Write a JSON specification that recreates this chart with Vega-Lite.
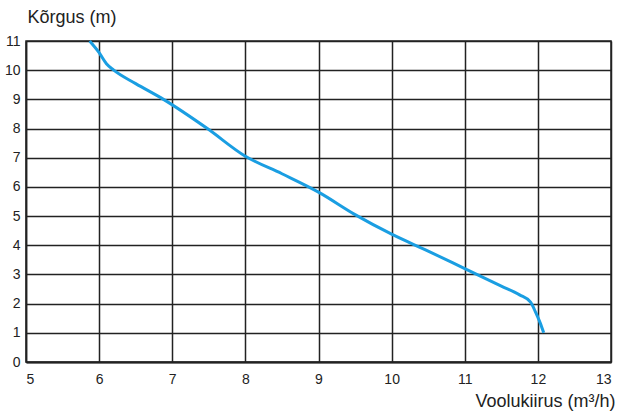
{
  "$schema": "https://vega.github.io/schema/vega-lite/v6.json",
  "width": 585,
  "height": 321,
  "autosize": {"type": "none"},
  "padding": {"left": 26, "top": 41, "right": 12, "bottom": 53},
  "background": "white",
  "config": {"view": {"stroke": "#222", "strokeWidth": 1.5}, "font": "Liberation Sans"},
  "data": {"values": [
    {"q": 5.87, "h": 11.0},
    {"q": 6.0, "h": 10.6},
    {"q": 6.1, "h": 10.22},
    {"q": 6.2, "h": 10.0},
    {"q": 6.5, "h": 9.54},
    {"q": 6.88, "h": 9.0},
    {"q": 7.48, "h": 8.0},
    {"q": 8.0, "h": 7.05},
    {"q": 8.5, "h": 6.45},
    {"q": 9.0, "h": 5.82},
    {"q": 9.5, "h": 5.05},
    {"q": 10.0, "h": 4.38},
    {"q": 10.5, "h": 3.8},
    {"q": 11.0, "h": 3.2},
    {"q": 11.5, "h": 2.6},
    {"q": 11.75, "h": 2.3},
    {"q": 11.9, "h": 2.05},
    {"q": 11.97, "h": 1.7},
    {"q": 12.03, "h": 1.35},
    {"q": 12.08, "h": 1.0}
  ]},
  "mark": {"type": "line", "color": "#1a9ee2", "strokeWidth": 3, "interpolate": "monotone"},
  "encoding": {
    "x": {
      "field": "q", "type": "quantitative",
      "scale": {"domain": [5, 13], "nice": false, "zero": false},
      "axis": {
        "values": [5, 6, 7, 8, 9, 10, 11, 12, 13],
        "grid": true, "gridColor": "#222", "gridWidth": 1.5, "gridOpacity": 1,
        "ticks": false, "labelPadding": 10, "labelFontSize": 14, "labelColor": "#222",
        "domainColor": "#222", "domainWidth": 2,
        "title": "Voolukiirus (m³/h)", "titleFontSize": 18, "titleFontWeight": "normal", "titleColor": "#222",
        "titleAnchor": null, "titleX": 589, "titleY": 39, "titleAlign": "right", "titleBaseline": "middle"
      }
    },
    "y": {
      "field": "h", "type": "quantitative",
      "scale": {"domain": [0, 11], "nice": false},
      "axis": {
        "values": [0, 1, 2, 3, 4, 5, 6, 7, 8, 9, 10, 11],
        "grid": true, "gridColor": "#222", "gridWidth": 1.5, "gridOpacity": 1,
        "ticks": false, "labelPadding": 6, "labelFontSize": 14, "labelColor": "#222",
        "domainColor": "#222", "domainWidth": 1.5,
        "title": "Kõrgus (m)", "titleFontSize": 18, "titleFontWeight": "normal", "titleColor": "#222",
        "titleAngle": 0, "titleAnchor": null, "titleX": 1, "titleY": -24, "titleAlign": "left", "titleBaseline": "middle"
      }
    }
  }
}
